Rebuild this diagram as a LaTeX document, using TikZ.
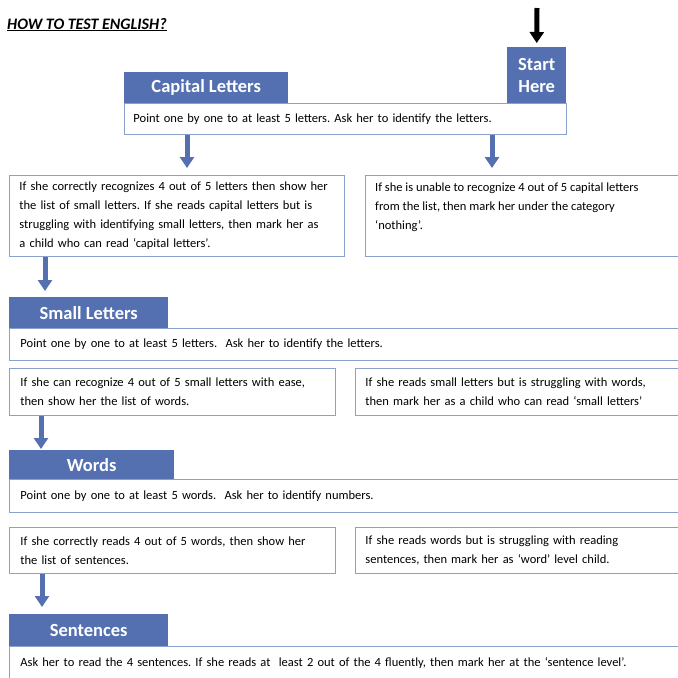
\documentclass[tikz,border=0pt]{standalone}
\usepackage{fontspec}
\setmainfont{Carlito}
\usepackage{xcolor}
\usepackage{tikz}
\usetikzlibrary{positioning}
\usetikzlibrary{arrows.meta}

\definecolor{hdrblue}{RGB}{84,112,176}
\definecolor{lineblue}{RGB}{140,160,206}
\frenchspacing

\tikzset{
  hdr/.style={fill=hdrblue, text=white, font=\fontsize{18.5}{22}\selectfont\bfseries, anchor=north west, inner sep=0pt, align=center},
  txtbox/.style={draw=lineblue, line width=0.9pt, anchor=north west, inner ysep=0pt, align=left, font=\fontsize{12.5}{19}\selectfont},
  body/.style={font=\fontsize{12.5}{19}\selectfont, anchor=north west, align=left, inner sep=0pt},
  flow/.style={hdrblue, line width=5pt, -{Triangle[length=11pt,width=14pt]}}
}

\begin{document}
\begin{tikzpicture}[x=1pt,y=-1pt]
\useasboundingbox (0,0) rectangle (678,678);

\node[font=\fontsize{16}{18}\selectfont\bfseries\itshape, anchor=base west, inner sep=0pt] (title) at (7,29) {\underline{HOW TO TEST ENGLISH?}};

% capital letters
\node[txtbox, minimum width=442pt, minimum height=31pt, inner xsep=9pt, text width=424pt] (captxt) at (124,103) {Point one by one to at least 5 letters. Ask her to identify the letters.};
\node[hdr, minimum width=164pt, minimum height=31pt] (capital) at (124,72) {Capital Letters};
\node[hdr, minimum width=59pt, minimum height=56pt] (start) at (507,47) {Start\\Here};
\coordinate (entry) at (537,8);

\node[txtbox, minimum width=335pt, minimum height=81pt, inner xsep=10pt, text width=315pt] (capyes) at (9,175) {If she correctly recognizes 4 out of 5 letters then show her\\the list of small letters. If she reads capital letters but is\\struggling with identifying small letters, then mark her as\\a child who can read ‘capital letters’.};
\node[txtbox, minimum width=314pt, minimum height=81pt] (capno) at (365,175) {};
\node[body] (capnotext) at ([shift={(10,8)}]capno.north west) {If she is unable to recognize 4 out of 5 capital letters\\from the list, then mark her under the category\\‘nothing’.};

% small letters
\node[txtbox, minimum width=670pt, minimum height=32pt, inner xsep=11pt, text width=648pt] (smalltxt) at (9,328) {Point one by one to at least 5 letters.\ \ Ask her to identify the letters.};
\node[hdr, minimum width=159pt, minimum height=31pt] (small) at (9,297) {Small Letters};
\node[txtbox, minimum width=326pt, minimum height=47pt, inner xsep=11pt, text width=304pt] (smallyes) at (9,368) {If she can recognize 4 out of 5 small letters with ease,\\then show her the list of words.};
\node[txtbox, minimum width=324pt, minimum height=47pt, inner xsep=10pt, text width=304pt] (smallno) at (355,368) {If she reads small letters but is struggling with words,\\then mark her as a child who can read ‘small letters’};

% words
\node[txtbox, minimum width=670pt, minimum height=33pt, inner xsep=11pt, text width=648pt] (wordstxt) at (9,479) {Point one by one to at least 5 words.\ \ Ask her to identify numbers.};
\node[hdr, minimum width=165pt, minimum height=29pt] (words) at (9,450) {Words};
\node[txtbox, minimum width=326pt, minimum height=46pt, inner xsep=11pt, text width=304pt] (wordsyes) at (9,527) {If she correctly reads 4 out of 5 words, then show her\\the list of sentences.};
\node[txtbox, minimum width=324pt, minimum height=46pt, inner xsep=10pt, text width=304pt] (wordsno) at (355,527) {If she reads words but is struggling with reading\\sentences, then mark her as ‘word’ level child.};

% sentences
\node[txtbox, minimum width=670pt, minimum height=33pt, inner xsep=11pt, text width=648pt] (senttxt) at (9,646) {Ask her to read the 4 sentences. If she reads at \ least 2 out of the 4 fluently, then mark her at the ‘sentence level’.};
\node[hdr, minimum width=159pt, minimum height=32pt] (sent) at (9,614) {Sentences};

% arrows
\draw[flow, black, shorten >=4pt] (entry) -- (start.north);
\draw[flow, shorten >=7pt] ([xshift=63pt]captxt.south west) -- ([xshift=178pt]capyes.north west);
\draw[flow, shorten >=7pt] ([xshift=368pt]captxt.south west) -- ([xshift=127pt]capno.north west);
\draw[flow, shorten >=6pt] ([xshift=36pt]capyes.south west) -- ([xshift=36pt]small.north west);
\draw[flow, shorten >=1pt] ([xshift=32pt]smallyes.south west) -- ([xshift=32pt]words.north west);
\draw[flow, shorten >=7pt] ([xshift=33pt]wordsyes.south west) -- ([xshift=33pt]sent.north west);

\end{tikzpicture}
\end{document}
